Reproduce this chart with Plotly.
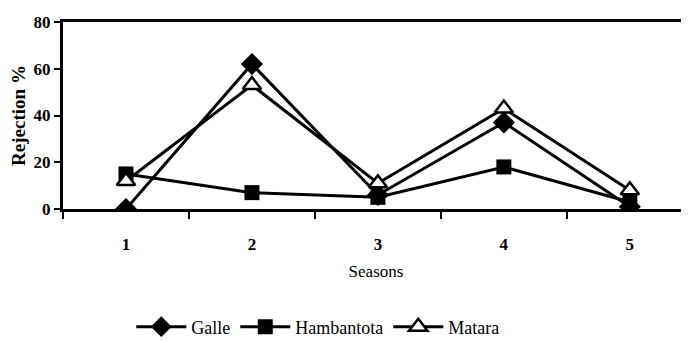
import plotly.graph_objects as go

seasons = ["1", "2", "3", "4", "5"]
galle = [0, 62, 6, 37, 1]
hambantota = [15, 7, 5, 18, 3]
matara = [12, 53, 11, 43, 8]
y_ticks = [0, 20, 40, 60, 80]

font_family = "Liberation Serif"

fig = go.Figure()
fig.add_trace(go.Scatter(x=seasons, y=galle, name="Galle", mode="lines+markers",
                         line=dict(color="black", width=3),
                         marker=dict(symbol="diamond", size=17, color="black")))
fig.add_trace(go.Scatter(x=seasons, y=hambantota, name="Hambantota", mode="lines+markers",
                         line=dict(color="black", width=3),
                         marker=dict(symbol="square", size=15, color="black")))
fig.add_trace(go.Scatter(x=seasons, y=matara, name="Matara", mode="lines+markers",
                         line=dict(color="black", width=3),
                         marker=dict(symbol="triangle-up", size=16, color="white",
                                     line=dict(color="black", width=2.5))))

fig.update_layout(
    width=681, height=333,
    margin=dict(l=55, r=0, t=14, b=132, autoexpand=False),
    paper_bgcolor="white", plot_bgcolor="white",
    font=dict(family=font_family, color="black", size=15),
    showlegend=True,
    legend=dict(orientation="h", x=0.407, xanchor="center", y=-0.631, yanchor="middle",
                font=dict(family=font_family, size=18, color="black"),
                itemwidth=50, traceorder="normal"),
    xaxis=dict(type="category", range=[-0.5, 4.47], showgrid=False, automargin=False,
               showline=True, linecolor="black", linewidth=3, mirror=True,
               ticks="outside", tickson="boundaries", ticklen=7, tickwidth=2,
               tickcolor="black", ticklabelstandoff=18,
               tickfont=dict(family=font_family, size=17, color="black", weight="bold"),
               title=dict(text="Seasons", standoff=12,
                          font=dict(family=font_family, size=17, color="black"))),
    yaxis=dict(range=[0, 80], tickvals=y_ticks, showgrid=False, zeroline=False,
               automargin=False,
               showline=True, linecolor="black", linewidth=3,
               ticks="outside", ticklen=6, tickwidth=2, tickcolor="black",
               tickfont=dict(family=font_family, size=17, color="black", weight="bold"),
               title=dict(text="Rejection %", standoff=3,
                          font=dict(family=font_family, size=19, color="black", weight="bold"))),
)

fig.write_html("out.html")
